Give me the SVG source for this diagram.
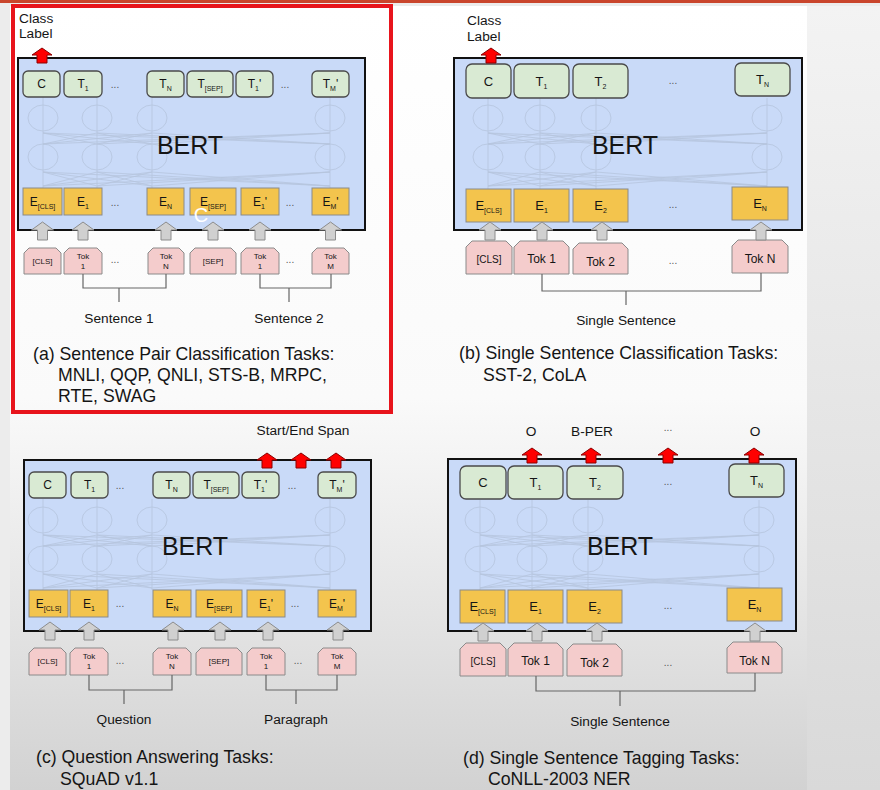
<svg xmlns="http://www.w3.org/2000/svg" xmlns:xlink="http://www.w3.org/1999/xlink" width="880" height="790" viewBox="0 0 880 790">
<defs>
<linearGradient id="pg" x1="0" y1="0" x2="0" y2="1">
<stop offset="0" stop-color="#ffffff"/><stop offset="0.5" stop-color="#fafafa"/><stop offset="1" stop-color="#d2d2d2"/>
</linearGradient>
<linearGradient id="rg" x1="0" y1="0" x2="0" y2="1">
<stop offset="0" stop-color="#f3f3f3"/><stop offset="1" stop-color="#d9d9d9"/>
</linearGradient>
<path id="ra" d="M0 0L10 7L5 7L5 15L-5 15L-5 7L-10 7Z" fill="#ff0000" stroke="#8b0000" stroke-width="1"/>
<path id="ga" d="M0 0L11 8L5 8L5 18L-5 18L-5 8L-11 8Z" fill="#d0d0d0" stroke="#8c8c8c" stroke-width="1"/>
<g id="meshA" fill="none" stroke="#a9b7cd" stroke-width="0.8" opacity="0.6">
<ellipse cx="43" cy="118" rx="15" ry="13"/><ellipse cx="97" cy="118" rx="15" ry="13"/><ellipse cx="152" cy="118" rx="15" ry="13"/><ellipse cx="330" cy="118" rx="15" ry="13"/>
<ellipse cx="43" cy="157" rx="15" ry="13"/><ellipse cx="97" cy="157" rx="15" ry="13"/><ellipse cx="152" cy="157" rx="15" ry="13"/><ellipse cx="330" cy="157" rx="15" ry="13"/>
<path d="M43 97V188M97 97V188M152 97V188M330 97V188M43 133L97 144M43 133L152 144M43 133L330 144M97 133L43 144M97 133L152 144M97 133L330 144M152 133L43 144M152 133L97 144M152 133L330 144M330 133L43 144M330 133L97 144M330 133L152 144M43 172L97 186M43 172L152 186M43 172L330 186M97 172L43 186M97 172L152 186M97 172L330 186M152 172L43 186M152 172L97 186M152 172L330 186M330 172L43 186M330 172L97 186M330 172L152 186"/>
</g>
<g id="meshB" fill="none" stroke="#a9b7cd" stroke-width="0.8" opacity="0.6">
<ellipse cx="488" cy="118" rx="15" ry="13"/><ellipse cx="540" cy="118" rx="15" ry="13"/><ellipse cx="596" cy="118" rx="15" ry="13"/><ellipse cx="767" cy="118" rx="15" ry="13"/>
<ellipse cx="488" cy="157" rx="15" ry="13"/><ellipse cx="540" cy="157" rx="15" ry="13"/><ellipse cx="596" cy="157" rx="15" ry="13"/><ellipse cx="767" cy="157" rx="15" ry="13"/>
<path d="M488 98V189M540 98V189M596 98V189M767 98V189M488 133L540 144M488 133L596 144M488 133L767 144M540 133L488 144M540 133L596 144M540 133L767 144M596 133L488 144M596 133L540 144M596 133L767 144M767 133L488 144M767 133L540 144M767 133L596 144M488 172L540 186M488 172L596 186M488 172L767 186M540 172L488 186M540 172L596 186M540 172L767 186M596 172L488 186M596 172L540 186M596 172L767 186M767 172L488 186M767 172L540 186M767 172L596 186"/>
</g>
</defs>
<style>
text{font-family:"Liberation Sans",Arial,sans-serif;fill:#151515}
.bx{fill:#c9daf8;stroke:#111;stroke-width:2}
.t{fill:#d9ead3;stroke:#4a4a4a;stroke-width:1.3}
.e{fill:#f3c44d;stroke:#8a8a8a;stroke-width:1}
.k{fill:#f4cccc;stroke:#8a8a8a;stroke-width:1}
.br{fill:none;stroke:#666;stroke-width:1.2}
.lb{font-size:13.7px}
.cap{font-size:17.7px}
.bert{font-size:25px;text-anchor:middle}
.tk{font-size:12px;text-anchor:middle}
.tb{font-size:13px;text-anchor:middle}
.sm{font-size:8px;text-anchor:middle}
.sb{font-size:7px}
.dt{font-size:10px;fill:#555;text-anchor:middle}
.mid{text-anchor:middle}
</style>
<!-- background -->
<rect width="880" height="790" fill="#ececec"/>
<rect x="10" y="6" width="797" height="784" fill="url(#pg)"/>
<rect x="807" y="6" width="73" height="784" fill="url(#rg)"/>
<rect x="0" y="0" width="880" height="3" fill="#c9452c"/>

<!-- ===== Panel (a) ===== -->
<g id="a-bert"><rect class="bx" x="18" y="58" width="347" height="172"/><use xlink:href="#meshA"/><text class="bert" x="190" y="154">BERT</text></g>
<g id="a-label"><text class="lb" x="19" y="23">Class</text><text class="lb" x="19" y="38">Label</text></g>
<g id="a-TC"><rect class="t" x="23" y="71" width="37" height="26" rx="5"/><text class="tk" x="41.5" y="88">C</text></g>
<g id="a-T1"><rect class="t" x="64" y="71" width="38" height="26" rx="5"/><text class="tk" x="83" y="88">T<tspan class="sb" dy="3">1</tspan></text></g>
<g id="a-TN"><rect class="t" x="147" y="71" width="37" height="26" rx="5"/><text class="tk" x="165.5" y="88">T<tspan class="sb" dy="3">N</tspan></text></g>
<g id="a-TSEP"><rect class="t" x="187" y="71" width="46" height="26" rx="5"/><text class="tk" x="210" y="88">T<tspan class="sb" dy="3">[SEP]</tspan></text></g>
<g id="a-T1p"><rect class="t" x="236" y="71" width="37" height="26" rx="5"/><text class="tk" x="254.5" y="88">T<tspan class="sb" dy="3">1</tspan><tspan dy="-3">'</tspan></text></g>
<g id="a-TMp"><rect class="t" x="312" y="71" width="37" height="26" rx="5"/><text class="tk" x="330.5" y="88">T<tspan class="sb" dy="3">M</tspan><tspan dy="-3">'</tspan></text></g>
<text class="dt" x="115" y="88">...</text><text class="dt" x="285" y="88">...</text>
<g id="a-ECLS"><rect class="e" x="23" y="188" width="39" height="27"/><text class="tk" x="42.5" y="206">E<tspan class="sb" dy="3">[CLS]</tspan></text></g>
<g id="a-E1"><rect class="e" x="64" y="188" width="38" height="27"/><text class="tk" x="83" y="206">E<tspan class="sb" dy="3">1</tspan></text></g>
<g id="a-EN"><rect class="e" x="147" y="188" width="37" height="27"/><text class="tk" x="165.5" y="206">E<tspan class="sb" dy="3">N</tspan></text></g>
<g id="a-ESEP"><rect class="e" x="190" y="188" width="46" height="27"/><text class="tk" x="213" y="206">E<tspan class="sb" dy="3">[SEP]</tspan></text></g>
<g id="a-E1p"><rect class="e" x="241" y="188" width="38" height="27"/><text class="tk" x="260" y="206">E<tspan class="sb" dy="3">1</tspan><tspan dy="-3">'</tspan></text></g>
<g id="a-EMp"><rect class="e" x="312" y="188" width="37" height="27"/><text class="tk" x="330.5" y="206">E<tspan class="sb" dy="3">M</tspan><tspan dy="-3">'</tspan></text></g>
<text class="dt" x="115" y="206">...</text><text class="dt" x="290" y="206">...</text>
<text x="201" y="222" font-size="20" text-anchor="middle" style="fill:#ffffff">C</text>
<g id="a-kCLS"><path class="k" d="M24 253L29 248H56L61 253V274H24Z"/><text class="sm" x="42.5" y="264">[CLS]</text></g>
<g id="a-k1"><path class="k" d="M64 253L69 248H97L102 253V274H64Z"/><text class="sm" x="83" y="259">Tok</text><text class="sm" x="83" y="269">1</text></g>
<g id="a-kN"><path class="k" d="M148 253L153 248H179L184 253V274H148Z"/><text class="sm" x="166" y="259">Tok</text><text class="sm" x="166" y="269">N</text></g>
<g id="a-kSEP"><path class="k" d="M190 253L195 248H231L236 253V274H190Z"/><text class="sm" x="213" y="264">[SEP]</text></g>
<g id="a-k1p"><path class="k" d="M241 253L246 248H274L279 253V274H241Z"/><text class="sm" x="260" y="259">Tok</text><text class="sm" x="260" y="269">1</text></g>
<g id="a-kM"><path class="k" d="M312 253L317 248H344L349 253V274H312Z"/><text class="sm" x="330.5" y="259">Tok</text><text class="sm" x="330.5" y="269">M</text></g>
<text class="dt" x="115" y="263">...</text><text class="dt" x="290" y="263">...</text>
<text class="lb mid" x="119" y="323">Sentence 1</text><text class="lb mid" x="289" y="323">Sentence 2</text>
<g id="a-caption"><text class="cap" x="33" y="360">(a) Sentence Pair Classification Tasks:</text><text class="cap" x="58" y="381">MNLI, QQP, QNLI, STS-B, MRPC,</text><text class="cap" x="58" y="402">RTE, SWAG</text></g>

<!-- ===== Panel (b) ===== -->
<g id="b-bert"><rect class="bx" x="454" y="58" width="348" height="172"/><use xlink:href="#meshB"/><text class="bert" x="625" y="154">BERT</text></g>
<g id="b-label"><text class="lb" x="467" y="25">Class</text><text class="lb" x="467" y="41">Label</text></g>
<g id="b-TC"><rect class="t" x="466" y="64" width="45" height="34" rx="6"/><text class="tb" x="488.5" y="86">C</text></g>
<g id="b-T1"><rect class="t" x="514" y="64" width="55" height="34" rx="6"/><text class="tb" x="541.5" y="86">T<tspan class="sb" dy="3">1</tspan></text></g>
<g id="b-T2"><rect class="t" x="573" y="64" width="55" height="34" rx="6"/><text class="tb" x="600.5" y="86">T<tspan class="sb" dy="3">2</tspan></text></g>
<g id="b-TN"><rect class="t" x="735" y="63" width="55" height="33" rx="6"/><text class="tb" x="762.5" y="84">T<tspan class="sb" dy="3">N</tspan></text></g>
<text class="dt" x="673" y="84">...</text>
<g id="b-ECLS"><rect class="e" x="466" y="189" width="45" height="33"/><text class="tb" x="488.5" y="210">E<tspan class="sb" dy="3">[CLS]</tspan></text></g>
<g id="b-E1"><rect class="e" x="514" y="189" width="55" height="33"/><text class="tb" x="541.5" y="210">E<tspan class="sb" dy="3">1</tspan></text></g>
<g id="b-E2"><rect class="e" x="573" y="189" width="55" height="33"/><text class="tb" x="600.5" y="210">E<tspan class="sb" dy="3">2</tspan></text></g>
<g id="b-EN"><rect class="e" x="732" y="187" width="56" height="33"/><text class="tb" x="760" y="208">E<tspan class="sb" dy="3">N</tspan></text></g>
<text class="dt" x="673" y="208">...</text>
<g id="b-kCLS"><path class="k" d="M466 247L472 241H506L512 247V274H466Z"/><text class="mid" font-size="10" x="489" y="263">[CLS]</text></g>
<g id="b-k1"><path class="k" d="M514 247L520 241H563L569 247V274H514Z"/><text class="tk" x="541.5" y="263">Tok 1</text></g>
<g id="b-k2"><path class="k" d="M573 249L579 243H622L628 249V274H573Z"/><text class="tk" x="600.5" y="266">Tok 2</text></g>
<g id="b-kN"><path class="k" d="M732 246L738 240H782L788 246V273H732Z"/><text class="tk" x="760" y="263">Tok N</text></g>
<text class="dt" x="673" y="264">...</text>
<text class="lb mid" x="626" y="325">Single Sentence</text>
<g id="b-caption"><text class="cap" x="459" y="359">(b) Single Sentence Classification Tasks:</text><text class="cap" x="483" y="381">SST-2, CoLA</text></g>

<!-- ===== Panel (c) ===== -->
<g id="c-bert"><rect class="bx" x="24" y="460" width="347" height="171"/><use xlink:href="#meshA" y="402"/><text class="bert" x="195" y="555">BERT</text></g>
<g id="c-label"><text class="lb mid" x="303" y="435">Start/End Span</text></g>
<g id="c-TC"><rect class="t" x="29" y="472" width="37" height="26" rx="5"/><text class="tk" x="47.5" y="489">C</text></g>
<g id="c-T1"><rect class="t" x="71" y="472" width="37" height="26" rx="5"/><text class="tk" x="89.5" y="489">T<tspan class="sb" dy="3">1</tspan></text></g>
<g id="c-TN"><rect class="t" x="153" y="472" width="37" height="26" rx="5"/><text class="tk" x="171.5" y="489">T<tspan class="sb" dy="3">N</tspan></text></g>
<g id="c-TSEP"><rect class="t" x="193" y="472" width="46" height="26" rx="5"/><text class="tk" x="216" y="489">T<tspan class="sb" dy="3">[SEP]</tspan></text></g>
<g id="c-T1p"><rect class="t" x="242" y="472" width="37" height="26" rx="5"/><text class="tk" x="260.5" y="489">T<tspan class="sb" dy="3">1</tspan><tspan dy="-3">'</tspan></text></g>
<g id="c-TMp"><rect class="t" x="318" y="472" width="38" height="26" rx="5"/><text class="tk" x="337" y="489">T<tspan class="sb" dy="3">M</tspan><tspan dy="-3">'</tspan></text></g>
<text class="dt" x="120" y="489">...</text><text class="dt" x="292" y="489">...</text>
<g id="c-ECLS"><rect class="e" x="29" y="590" width="39" height="27"/><text class="tk" x="48.5" y="608">E<tspan class="sb" dy="3">[CLS]</tspan></text></g>
<g id="c-E1"><rect class="e" x="70" y="590" width="38" height="27"/><text class="tk" x="89" y="608">E<tspan class="sb" dy="3">1</tspan></text></g>
<g id="c-EN"><rect class="e" x="153" y="590" width="38" height="27"/><text class="tk" x="172" y="608">E<tspan class="sb" dy="3">N</tspan></text></g>
<g id="c-ESEP"><rect class="e" x="196" y="590" width="46" height="27"/><text class="tk" x="219" y="608">E<tspan class="sb" dy="3">[SEP]</tspan></text></g>
<g id="c-E1p"><rect class="e" x="247" y="590" width="38" height="27"/><text class="tk" x="266" y="608">E<tspan class="sb" dy="3">1</tspan><tspan dy="-3">'</tspan></text></g>
<g id="c-EMp"><rect class="e" x="318" y="590" width="38" height="27"/><text class="tk" x="337" y="608">E<tspan class="sb" dy="3">M</tspan><tspan dy="-3">'</tspan></text></g>
<text class="dt" x="120" y="607">...</text><text class="dt" x="295" y="607">...</text>
<g id="c-kCLS"><path class="k" d="M29 653L34 648H61L66 653V675H29Z"/><text class="sm" x="47.5" y="664">[CLS]</text></g>
<g id="c-k1"><path class="k" d="M70 653L75 648H103L108 653V675H70Z"/><text class="sm" x="89" y="659">Tok</text><text class="sm" x="89" y="669">1</text></g>
<g id="c-kN"><path class="k" d="M153 653L158 648H186L191 653V675H153Z"/><text class="sm" x="172" y="659">Tok</text><text class="sm" x="172" y="669">N</text></g>
<g id="c-kSEP"><path class="k" d="M196 653L201 648H237L242 653V675H196Z"/><text class="sm" x="219" y="664">[SEP]</text></g>
<g id="c-k1p"><path class="k" d="M247 653L252 648H280L285 653V675H247Z"/><text class="sm" x="266" y="659">Tok</text><text class="sm" x="266" y="669">1</text></g>
<g id="c-kM"><path class="k" d="M318 653L323 648H351L356 653V675H318Z"/><text class="sm" x="337" y="659">Tok</text><text class="sm" x="337" y="669">M</text></g>
<text class="dt" x="120" y="664">...</text><text class="dt" x="298" y="664">...</text>
<text class="lb mid" x="124" y="724">Question</text><text class="lb mid" x="296" y="724">Paragraph</text>
<g id="c-caption"><text class="cap" x="36" y="763">(c) Question Answering Tasks:</text><text class="cap" x="60" y="785">SQuAD v1.1</text></g>

<!-- ===== Panel (d) ===== -->
<g id="d-bert"><rect class="bx" x="448" y="459" width="348" height="172"/><use xlink:href="#meshB" x="-8" y="402"/><text class="bert" x="620" y="555">BERT</text></g>
<g id="d-labels"><text class="lb mid" x="531" y="436">O</text><text class="lb mid" x="592" y="436">B-PER</text><text class="dt" x="668" y="431">...</text><text class="lb mid" x="755" y="436">O</text></g>
<g id="d-TC"><rect class="t" x="460" y="466" width="46" height="33" rx="6"/><text class="tb" x="483" y="487">C</text></g>
<g id="d-T1"><rect class="t" x="508" y="466" width="55" height="33" rx="6"/><text class="tb" x="535.5" y="487">T<tspan class="sb" dy="3">1</tspan></text></g>
<g id="d-T2"><rect class="t" x="567" y="466" width="56" height="33" rx="6"/><text class="tb" x="595" y="487">T<tspan class="sb" dy="3">2</tspan></text></g>
<g id="d-TN"><rect class="t" x="729" y="464" width="55" height="33" rx="6"/><text class="tb" x="756.5" y="485">T<tspan class="sb" dy="3">N</tspan></text></g>
<text class="dt" x="668" y="485">...</text>
<g id="d-ECLS"><rect class="e" x="460" y="590" width="45" height="33"/><text class="tb" x="482.5" y="611">E<tspan class="sb" dy="3">[CLS]</tspan></text></g>
<g id="d-E1"><rect class="e" x="508" y="590" width="55" height="33"/><text class="tb" x="535.5" y="611">E<tspan class="sb" dy="3">1</tspan></text></g>
<g id="d-E2"><rect class="e" x="567" y="590" width="55" height="33"/><text class="tb" x="594.5" y="611">E<tspan class="sb" dy="3">2</tspan></text></g>
<g id="d-EN"><rect class="e" x="727" y="588" width="55" height="33"/><text class="tb" x="754.5" y="609">E<tspan class="sb" dy="3">N</tspan></text></g>
<text class="dt" x="668" y="609">...</text>
<g id="d-kCLS"><path class="k" d="M460 649L466 643H500L506 649V676H460Z"/><text class="mid" font-size="10" x="483" y="665">[CLS]</text></g>
<g id="d-k1"><path class="k" d="M508 649L514 643H557L563 649V676H508Z"/><text class="tk" x="535.5" y="665">Tok 1</text></g>
<g id="d-k2"><path class="k" d="M567 650L573 644H616L622 650V676H567Z"/><text class="tk" x="594.5" y="667">Tok 2</text></g>
<g id="d-kN"><path class="k" d="M727 648L733 642H776L782 648V673H727Z"/><text class="tk" x="754.5" y="665">Tok N</text></g>
<text class="dt" x="668" y="666">...</text>
<text class="lb mid" x="620" y="726">Single Sentence</text>
<g id="d-caption"><text class="cap" x="463" y="764">(d) Single Sentence Tagging Tasks:</text><text class="cap" x="488" y="785">CoNLL-2003 NER</text></g>

<!-- ===== Connectors ===== -->
<g id="connectors">
<path class="br" d="M83 274V288H166V274M119 288V302M260 274V288H331V274M289 288V302"/>
<path class="br" d="M542 274V291H761V273M626 291V305"/>
<path class="br" d="M89 675V690H172V675M124 690V704M266 675V690H337V675M296 690V704"/>
<path class="br" d="M536 676V691H755V673M620 691V706"/>
<use xlink:href="#ga" x="42.5" y="222"/><use xlink:href="#ga" x="83" y="222"/><use xlink:href="#ga" x="166" y="222"/><use xlink:href="#ga" x="213" y="222"/><use xlink:href="#ga" x="260" y="222"/><use xlink:href="#ga" x="330.5" y="222"/>
<use xlink:href="#ga" x="490" y="222"/><use xlink:href="#ga" x="542" y="222"/><use xlink:href="#ga" x="602" y="222"/><use xlink:href="#ga" x="761" y="222"/>
<use xlink:href="#ga" x="50" y="622"/><use xlink:href="#ga" x="89" y="622"/><use xlink:href="#ga" x="173" y="622"/><use xlink:href="#ga" x="220" y="622"/><use xlink:href="#ga" x="268" y="622"/><use xlink:href="#ga" x="338" y="622"/>
<use xlink:href="#ga" x="483" y="623"/><use xlink:href="#ga" x="537" y="623"/><use xlink:href="#ga" x="597" y="623"/><use xlink:href="#ga" x="755" y="623"/>
<use xlink:href="#ra" x="42" y="48"/>
<use xlink:href="#ra" x="491" y="48"/>
<use xlink:href="#ra" x="267" y="453"/><use xlink:href="#ra" x="301" y="453"/><use xlink:href="#ra" x="336" y="453"/>
<use xlink:href="#ra" x="532" y="448"/><use xlink:href="#ra" x="591" y="448"/><use xlink:href="#ra" x="668" y="448"/><use xlink:href="#ra" x="754" y="448"/>
</g>

<!-- highlight frame -->
<rect x="13" y="6" width="378" height="406" fill="none" stroke="#e8141c" stroke-width="4"/>
</svg>
